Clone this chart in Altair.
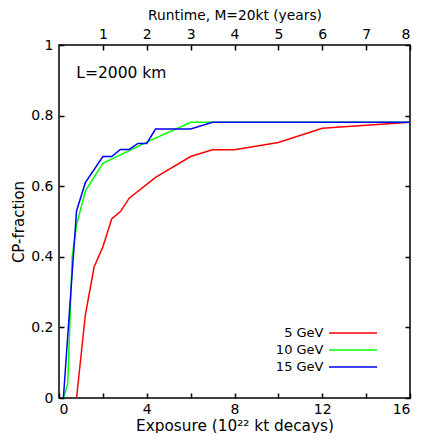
import altair as alt
import pandas as pd

series_names = ["5 GeV", "10 GeV", "15 GeV"]
series_colors = ["#ff0000", "#00ff00", "#0000ff"]

red_x = [0.8, 1.2, 1.6, 2.0, 2.4, 2.8, 3.2, 4.4, 6.0, 7.0, 8.0, 10.0, 12.0, 16.0]
red_y = [0.0, 0.235, 0.371, 0.428, 0.507, 0.528, 0.566, 0.625, 0.684, 0.703, 0.703, 0.724, 0.764, 0.781]

green_x = [0.2, 0.4, 0.6, 0.8, 1.2, 2.0, 4.0, 6.0, 7.0, 16.0]
green_y = [0.0, 0.04, 0.40, 0.49, 0.587, 0.665, 0.725, 0.781, 0.781, 0.781]

blue_x = [0.2, 0.8, 1.2, 2.0, 2.4, 2.8, 3.2, 3.6, 4.0, 4.4, 6.0, 7.0, 16.0]
blue_y = [0.0, 0.53, 0.61, 0.684, 0.684, 0.704, 0.704, 0.721, 0.721, 0.762, 0.762, 0.781, 0.781]

x_ticks = [0, 2, 4, 6, 8, 10, 12, 14, 16]
year_ticks = [1, 2, 3, 4, 5, 6, 7, 8]
y_ticks = [0, 0.2, 0.4, 0.6, 0.8, 1.0]

annotation = ["L=2000 km"]
annotation_x = [0.79]
annotation_y = [0.921]

rows = []
for name, xs, ys in zip(series_names, [red_x, green_x, blue_x], [red_y, green_y, blue_y]):
    for i, (x, y) in enumerate(zip(xs, ys)):
        rows.append({"series": name, "exposure": x, "cp": y, "i": i})
df = pd.DataFrame(rows)
ann_df = pd.DataFrame({"text": annotation, "x": annotation_x, "y": annotation_y})

W = 351
H = 353
FONT = "DejaVu Sans"

xscale = alt.Scale(domain=[0, 16], nice=False, zero=False)
yscale = alt.Scale(domain=[0, 1], nice=False, zero=False)
cscale = alt.Scale(domain=series_names, range=series_colors)

legend = alt.Legend(
    title=None, orient="none", legendX=287, legendY=281,
    symbolType="M-4,0H4", symbolSize=144, symbolStrokeWidth=1.5,
    labelAlign="right", labelOffset={"expr": "-36.5"}, labelFontSize=13, labelFont=FONT,
    labelColor="black", rowPadding=3, padding=0,
)

base = alt.Chart(df)

main_x_axis = alt.Axis(
    orient="bottom", values=x_ticks, labelExpr="datum.value % 4 == 0 ? datum.value : ''",
    ticks=False, domain=False, grid=False, labelFontSize=14, labelPadding=4,
    title="Exposure (10²² kt decays)", titleFontSize=15.3, titleFontWeight="normal",
    titlePadding=2, labelColor="black", titleColor="black",
)
main_y_axis = alt.Axis(
    orient="left", values=y_ticks,
    labelExpr="datum.value == 0 ? '0' : datum.value == 1 ? '1' : format(datum.value, '.1f')",
    ticks=False, domain=False, grid=False, labelFontSize=14, labelPadding=6,
    title="CP-fraction", titleFontSize=15, titleFontWeight="normal", titlePadding=4,
    labelColor="black", titleColor="black",
)

layers = []
for k, name in enumerate(series_names):
    xa = main_x_axis if k == 0 else None
    ya = main_y_axis if k == 0 else None
    layers.append(
        base.transform_filter(alt.datum.series == name)
        .mark_line(strokeWidth=1.5, clip=True)
        .encode(
            x=alt.X("exposure:Q", scale=xscale, axis=xa),
            y=alt.Y("cp:Q", scale=yscale, axis=ya),
            color=alt.Color("series:N", scale=cscale, legend=legend),
            order="i:Q",
        )
    )

# top (years) axis with labels
top_axis = (
    base.mark_point(opacity=0)
    .encode(
        x=alt.X("exposure:Q", scale=xscale, axis=alt.Axis(
            orient="top", values=[2 * v for v in year_ticks], labelExpr="datum.value / 2",
            ticks=False, domain=False, grid=False, labelFontSize=14, labelPadding=4,
            title="Runtime, M=20kt (years)", titleFontSize=13.8, titleFontWeight="normal",
            titlePadding=5, labelColor="black", titleColor="black")),
        y=alt.Y("cp:Q", scale=yscale, axis=None),
    )
)

tick_common = dict(labels=False, domain=False, grid=False, ticks=True, tickSize=5,
                   tickColor="black", tickWidth=1.5, title=None)

# inward ticks: bottom edge & left edge
ticks_a = (
    base.mark_point(opacity=0)
    .encode(
        x=alt.X("exposure:Q", scale=xscale, axis=alt.Axis(orient="top", offset=-H, values=x_ticks, **tick_common)),
        y=alt.Y("cp:Q", scale=yscale, axis=alt.Axis(orient="right", offset=-W, values=y_ticks, **tick_common)),
    )
)
# inward ticks: top edge & right edge
ticks_b = (
    base.mark_point(opacity=0)
    .encode(
        x=alt.X("exposure:Q", scale=xscale, axis=alt.Axis(orient="bottom", offset=-H, values=[2 * v for v in year_ticks], **tick_common)),
        y=alt.Y("cp:Q", scale=yscale, axis=alt.Axis(orient="left", offset=-W, values=y_ticks, **tick_common)),
    )
)

label = (
    alt.Chart(ann_df)
    .mark_text(align="left", baseline="middle", fontSize=15.5, font=FONT, color="black")
    .encode(
        x=alt.X("x:Q", scale=xscale, axis=None),
        y=alt.Y("y:Q", scale=yscale, axis=None),
        text="text:N",
    )
)

chart = (
    alt.layer(*layers, top_axis, ticks_a, ticks_b, label)
    .resolve_axis(x="independent", y="independent")
    .properties(
        width=W, height=H,
        autosize=alt.AutoSizeParams(type="none"),
        padding={"left": 51, "top": 37, "right": 9, "bottom": 35},
    )
    .configure(font=FONT)
    .configure_view(stroke="black", strokeWidth=1.5)
)

chart.save("out.html", embed_options={"renderer": "svg", "actions": False})
